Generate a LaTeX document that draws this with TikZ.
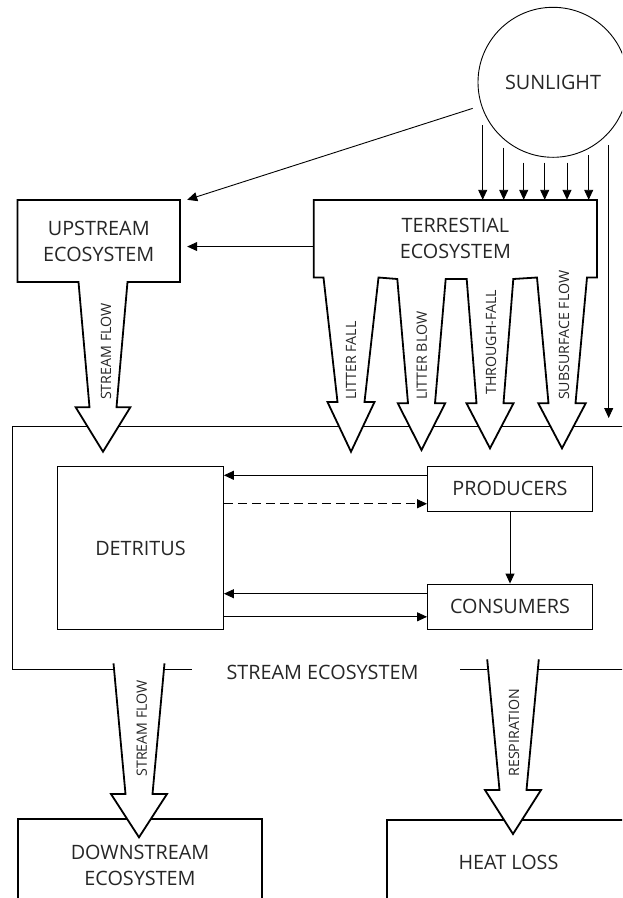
\documentclass[tikz,border=0pt]{standalone}
\usepackage{fontspec}
\setmainfont{Open Sans}
\usetikzlibrary{arrows.meta,calc}

% tapered flow arrow: x, top y, top half width, neck y, tip y, head half width
\newcommand{\fatarrow}[6]{(#1-#3,#2) -- (#1-13.5,#4) -- (#1-#6,#4) -- (#1,#5) -- (#1+#6,#4) -- (#1+13.5,#4) -- (#1+#3,#2)}

\tikzset{
  heavy/.style={line width=1.8pt, line join=miter},
  fatline/.style={draw, heavy, fill=white},
  light/.style={line width=0.9pt},
  arr/.style={light, -{Triangle[length=10pt,width=9pt]}},
  lbl/.style={font=\fontsize{19.8}{26}\selectfont, text=black!85, align=center, inner sep=0pt},
  flow/.style={font=\fontsize{14.2}{16}\selectfont, text=black!85, rotate=90, anchor=west, inner sep=0pt}
}

\begin{document}
\begin{tikzpicture}[x=1pt, y=-1pt]
\clip (0,0) rectangle (622,898);

% Stream ecosystem frame
\draw[light] (113.3,669.3) -- (12.3,669.3) -- (12.3,426.7) -- (630,426.7);
\draw[light] (165,669.3) -- (191.7,669.3);
\draw[light] (460,669.3) -- (486.7,669.3);
\draw[light] (538.3,669.3) -- (630,669.3);

% Upstream box and its outflow
\draw[fatline] (17.5,200) -- (17.5,282) -- \fatarrow{103}{282}{24.5}{407.3}{451.7}{27.3} -- (180,282) -- (180,200) -- cycle;

% Terrestrial box and its four outflows
\draw[fatline] (313.7,200) -- (313.7,277.5)
  -- \fatarrow{351}{277.5}{27.5}{402}{451.7}{23.5}
  -- \fatarrow{421.5}{279}{24.2}{403.3}{450}{23.7}
  -- \fatarrow{490}{279}{23.3}{403.3}{448.3}{23.5}
  -- \fatarrow{562}{277.5}{25}{403.3}{448.3}{23.7}
  -- (597,277.5) -- (597,200) -- cycle;

% Sinks below the stream
\draw[heavy] (18,910) -- (18,819.3) -- (262,819.3) -- (262,910);
\draw[heavy] (387,910) -- (387,820) -- (630,820);
\draw[fatline] \fatarrow{139}{663.3}{25.5}{794}{837.3}{28};
\draw[fatline] \fatarrow{513}{659.3}{25.8}{790}{834}{28};

% Compartments
\node[lbl, circle, draw, light, minimum size=150pt] (sun) at (553,82.3) {SUNLIGHT};
\node[lbl, minimum width=162.5pt, minimum height=82pt] (ups) at (98.75,241) {UPSTREAM\\ECOSYSTEM};
\node[lbl, minimum width=283.3pt, minimum height=77.5pt] (terr) at (455.35,238.75) {TERRESTIAL\\ECOSYSTEM};
\node[lbl, draw, light, minimum width=166pt, minimum height=162.6pt] (det) at (140.45,548) {DETRITUS};
\node[lbl, draw, light, minimum width=165pt, minimum height=44.3pt] (prod) at (510,488.85) {PRODUCERS};
\node[lbl, draw, light, minimum width=165pt, minimum height=45.3pt] (cons) at (510,606.65) {CONSUMERS};
\node[lbl] (seco) at (322.5,672) {STREAM ECOSYSTEM};
\node[lbl] (down) at (140,865) {DOWNSTREAM\\ECOSYSTEM};
\node[lbl] (heat) at (508.5,862) {HEAT LOSS};

% Flow labels
\foreach \x/\y/\t [count=\i] in {106/400/STREAM FLOW, 351/400/LITTER FALL, 421.7/400/LITTER BLOW,
    491/395/THROUGH-FALL, 564/400/SUBSURFACE FLOW, 141.7/776.7/STREAM FLOW, 514/776.7/RESPIRATION}
  \node[flow] (flow\i) at (\x,\y) {\t};

% Sunlight inputs
\foreach \x/\y in {482.7/125, 503.7/147.7, 523.7/162.7, 544.7/162.7, 567/162.7, 588.7/155}
  \draw[arr] (\x,\y) -- (\x,\y |- terr.north);
\draw[arr] (608.7,145) -- (608.7,418);
\draw[arr, shorten <=9pt] (sun.198) -- ([xshift=7pt]ups.north east);

% Terrestrial to upstream
\coordinate (t1) at ($(terr.north west)!0.6!(terr.south west)$);
\draw[arr] (t1) -- ($(t1 -| ups.east)+(7,0)$);

% Exchanges inside the stream
\coordinate (p1) at ($(prod.north west)!0.2!(prod.south west)$);
\coordinate (p2) at ($(prod.north west)!0.83!(prod.south west)$);
\coordinate (c1) at ($(cons.north west)!0.22!(cons.south west)$);
\coordinate (c2) at ($(cons.north west)!0.72!(cons.south west)$);
\draw[arr] (p1) -- (p1 -| det.east);
\draw[arr, dash pattern=on 9pt off 5pt] (p2 -| det.east) -- (p2);
\draw[arr] (prod.south) -- (cons.north);
\draw[arr] (c1) -- (c1 -| det.east);
\draw[arr] (c2 -| det.east) -- (c2);

\end{tikzpicture}
\end{document}
